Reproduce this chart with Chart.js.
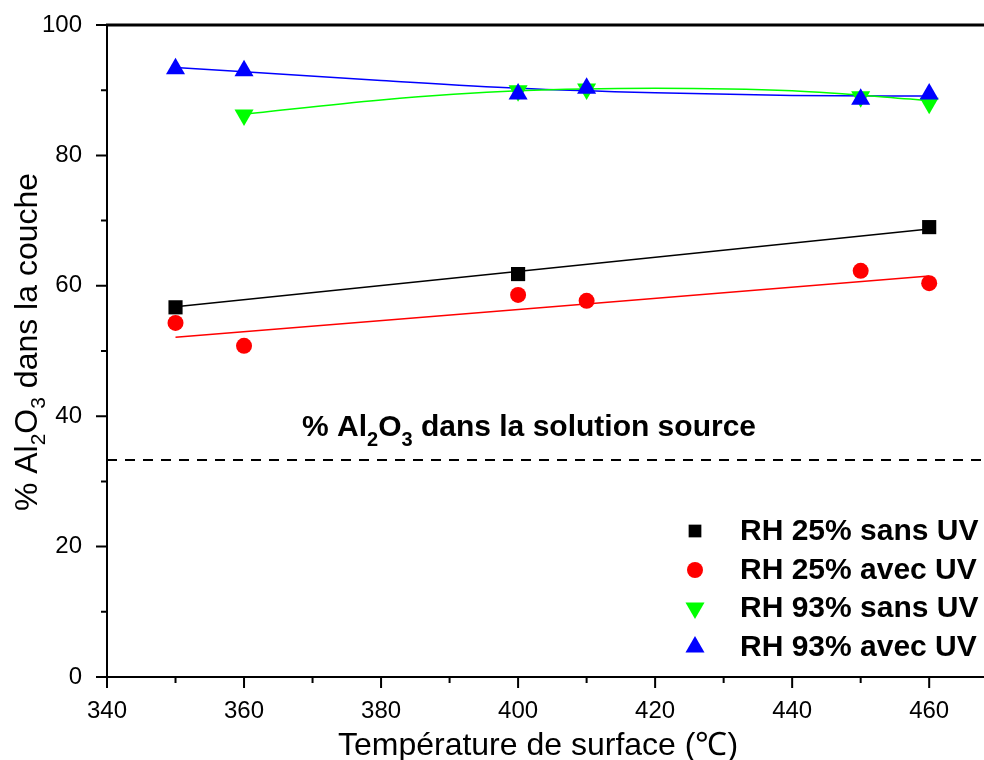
<!DOCTYPE html>
<html>
<head>
<meta charset="utf-8">
<script src="https://cdn.jsdelivr.net/npm/chart.js@4.4.1/dist/chart.umd.min.js"></script>
<style>
  html, body { margin: 0; padding: 0; background: #fff; overflow: hidden; }
  #wrap { width: 984px; height: 760px; }
  canvas { display: block; }
</style>
</head>
<body>
<div id="wrap"><canvas id="alChart" width="984" height="760"></canvas></div>
<script>
// --- data ---
const xRH25sans = [350, 400, 460];
const yRH25sans = [56.7, 61.8, 69.0];
const xRH25avec = [350, 360, 400, 410, 450, 460];
const yRH25avec = [54.3, 50.8, 58.6, 57.7, 62.3, 60.4];
const xRH93sans = [360, 400, 410, 450, 460];
const yRH93sans = [86.2, 89.9, 90.2, 89.0, 88.0];
const xRH93avec = [350, 360, 400, 410, 450, 460];
const yRH93avec = [93.3, 93.0, 89.4, 90.3, 88.6, 89.4];

// fitted curves
const fitX25sans = [350, 460];
const fitY25sans = [56.8, 68.7];
const fitX25avec = [350, 460];
const fitY25avec = [52.1, 61.5];
const fitX93sans = [360, 380, 400, 420, 440, 460];
const fitY93sans = [86.3, 88.5, 89.9, 90.3, 89.9, 88.4];
const fitX93avec = [350, 380, 400, 420, 440, 460];
const fitY93avec = [93.5, 91.5, 90.3, 89.6, 89.2, 89.1];

// % Al2O3 in the source solution
const sourceX = [340, 468];
const sourceY = [33.3, 33.3];

const xTicks = [340, 360, 380, 400, 420, 440, 460];
const yTicks = [0, 20, 40, 60, 80, 100];

const FONT = "'Liberation Sans', Arial, sans-serif";
const pts = (xs, ys) => xs.map((x, i) => ({ x: x, y: ys[i] }));

const series = [
  { label: 'RH 25% sans UV', color: '#000000', style: 'rect', radius: 10, rotation: 0 },
  { label: 'RH 25% avec UV', color: '#ff0000', style: 'circle', radius: 8, rotation: 0 },
  { label: 'RH 93% sans UV', color: '#00ff00', style: 'triangle', radius: 11, rotation: 180 },
  { label: 'RH 93% avec UV', color: '#0000ff', style: 'triangle', radius: 11, rotation: 0 },
];
const markerData = [
  pts(xRH25sans, yRH25sans), pts(xRH25avec, yRH25avec),
  pts(xRH93sans, yRH93sans), pts(xRH93avec, yRH93avec)
];
const fitData = [
  pts(fitX25sans, fitY25sans), pts(fitX25avec, fitY25avec),
  pts(fitX93sans, fitY93sans), pts(fitX93avec, fitY93avec)
];
const markerOrder = [4, 3, 2, 1];

const datasets = [];
series.forEach((s, i) => {
  datasets.push({
    label: s.label,
    data: markerData[i],
    showLine: false,
    pointStyle: s.style,
    pointRadius: s.radius,
    pointRotation: s.rotation,
    pointBackgroundColor: s.color,
    pointBorderWidth: 0,
    pointHoverRadius: s.radius,
    order: markerOrder[i],
  });
});
series.forEach((s, i) => {
  datasets.push({
    label: s.label + ' fit',
    data: fitData[i],
    showLine: true,
    borderColor: s.color,
    borderWidth: 1.5,
    pointRadius: 0,
    cubicInterpolationMode: 'monotone',
    order: 10 + i,
  });
});
datasets.push({
  label: 'source',
  data: pts(sourceX, sourceY),
  showLine: true,
  borderColor: '#000',
  borderWidth: 2,
  borderDash: [10, 8],
  pointRadius: 0,
  order: 20,
});

// draw a text made of pieces, some of them subscripts
function drawPieces(ctx, pieces, x, y, size, subSize, weight, subDrop) {
  let cx = x;
  pieces.forEach(p => {
    const sub = p.startsWith('_');
    const t = sub ? p.slice(1) : p;
    ctx.font = weight + ' ' + (sub ? subSize : size) + 'px ' + FONT;
    ctx.fillText(t, cx, sub ? y + subDrop : y);
    cx += ctx.measureText(t).width;
  });
  return cx - x;
}
function piecesWidth(ctx, pieces, size, subSize, weight) {
  let w = 0;
  pieces.forEach(p => {
    const sub = p.startsWith('_');
    const t = sub ? p.slice(1) : p;
    ctx.font = weight + ' ' + (sub ? subSize : size) + 'px ' + FONT;
    w += ctx.measureText(t).width;
  });
  return w;
}

const decor = {
  id: 'decor',
  afterDraw(chart) {
    const ctx = chart.ctx;
    const xs = chart.scales.x, ys = chart.scales.y;
    const area = chart.chartArea;
    ctx.save();
    ctx.strokeStyle = '#000';
    ctx.fillStyle = '#000';

    // top frame
    ctx.lineWidth = 3;
    ctx.beginPath();
    ctx.moveTo(area.left - 1, area.top);
    ctx.lineTo(area.right, area.top);
    ctx.stroke();

    // ticks (outward), major + minor
    ctx.lineWidth = 2;
    ctx.beginPath();
    for (let v = 340; v <= 460; v += 10) {
      const px = xs.getPixelForValue(v);
      const len = v % 20 === 0 ? 11 : 6;
      ctx.moveTo(px, area.bottom);
      ctx.lineTo(px, area.bottom + len);
    }
    for (let v = 0; v <= 100; v += 10) {
      const py = ys.getPixelForValue(v);
      const len = v % 20 === 0 ? 11 : 6;
      ctx.moveTo(area.left, py);
      ctx.lineTo(area.left - len, py);
    }
    ctx.stroke();

    // x axis title
    ctx.textAlign = 'center';
    ctx.textBaseline = 'alphabetic';
    ctx.font = '32px ' + FONT;
    ctx.fillText('Température de surface (℃)', 538, 755);

    // y axis title with subscripts
    const yPieces = ['% Al', '_2', 'O', '_3', ' dans la couche'];
    ctx.save();
    ctx.translate(37, 342);
    ctx.rotate(-Math.PI / 2);
    ctx.textAlign = 'left';
    const yw = piecesWidth(ctx, yPieces, 32, 21, 'normal');
    drawPieces(ctx, yPieces, -yw / 2, 0, 32, 21, 'normal', 8);
    ctx.restore();

    // annotation above the dashed line
    const aPieces = ['% Al', '_2', 'O', '_3', ' dans la solution source'];
    ctx.textAlign = 'left';
    drawPieces(ctx, aPieces, 302, 436, 30, 20, 'bold', 10);

    // legend
    const rowY = [531, 570, 608, 647];
    series.forEach((s, i) => {
      ctx.fillStyle = s.color;
      const r = s.style === 'rect' ? 9 : s.radius === 8 ? 8 : 11;
      Chart.helpers.drawPoint(ctx, {
        pointStyle: s.style, radius: r, rotation: s.rotation, borderWidth: 0
      }, 695, rowY[i]);
      ctx.fillStyle = '#000';
      ctx.font = 'bold 30px ' + FONT;
      ctx.textBaseline = 'middle';
      ctx.fillText(s.label, 740, rowY[i] + 1);
    });
    ctx.restore();
  }
};

const ctx = document.getElementById('alChart').getContext('2d');
const alChart = new Chart(ctx, {
  type: 'scatter',
  data: { datasets: datasets },
  options: {
    responsive: false,
    animation: false,
    layout: { autoPadding: false, padding: { top: 25, right: 0, left: 0, bottom: 0 } },
    plugins: {
      legend: { display: false },
      tooltip: { enabled: false },
    },
    scales: {
      x: {
        type: 'linear',
        min: 340,
        max: 468,
        afterBuildTicks: (axis) => { axis.ticks = xTicks.map(v => ({ value: v })); },
        afterFit: (axis) => {
          axis.height = 83;
          axis.paddingLeft = 0;
          axis.paddingRight = 0;
        },
        grid: { display: false },
        border: { display: true, color: '#000', width: 2 },
        ticks: {
          padding: 12,
          color: '#000',
          font: { family: FONT, size: 24 },
          maxRotation: 0,
          autoSkip: false,
        },
      },
      y: {
        min: 0,
        max: 100,
        afterBuildTicks: (axis) => { axis.ticks = yTicks.map(v => ({ value: v })); },
        afterFit: (axis) => {
          axis.width = 107;
          axis.paddingTop = 0;
          axis.paddingBottom = 0;
        },
        grid: { display: false },
        border: { display: true, color: '#000', width: 2 },
        ticks: {
          padding: 17,
          color: '#000',
          font: { family: FONT, size: 24 },
        },
      },
    },
  },
  plugins: [decor],
});
</script>
</body>
</html>
